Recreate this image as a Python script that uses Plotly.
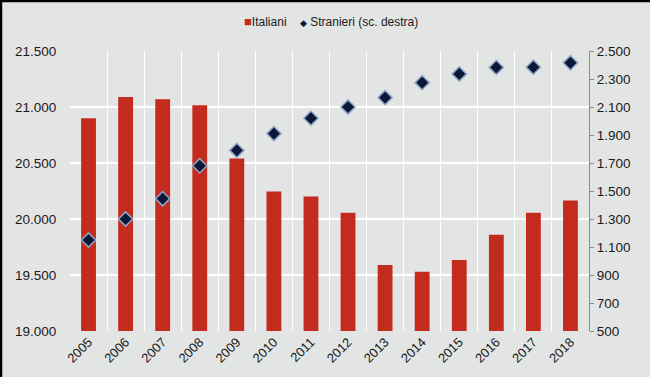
import plotly.graph_objects as go

years = [str(y) for y in range(2005, 2019)]
italiani = [20900, 21090, 21070, 21015, 20540, 20245, 20200, 20055, 19590, 19530, 19635, 19860, 20055, 20165]
stranieri = [1150, 1300, 1445, 1680, 1790, 1910, 2020, 2100, 2167, 2274, 2336, 2383, 2384, 2416]

left_ticks = [19000, 19500, 20000, 20500, 21000, 21500]
left_labels = ["19.000", "19.500", "20.000", "20.500", "21.000", "21.500"]
right_ticks = [500, 700, 900, 1100, 1300, 1500, 1700, 1900, 2100, 2300, 2500]
right_labels = ["500", "700", "900", "1.100", "1.300", "1.500", "1.700", "1.900", "2.100", "2.300", "2.500"]

W, H = 650, 377
ml, mr, mt, mb = 70, 61, 51, 46
pw, ph = W - ml - mr, H - mt - mb

font_fam = "Liberation Sans, Arial, sans-serif"
bg = "#e3e5e5"
red = "#c42b1f"
navy = "#0c1838"

fig = go.Figure()
fig.add_trace(go.Bar(
    x=years, y=italiani, name="Italiani",
    marker=dict(color=red, line=dict(width=0)),
    width=0.4,
))
fig.add_trace(go.Scatter(
    x=years, y=stranieri, name="Stranieri (sc. destra)", yaxis="y2",
    mode="markers",
    marker=dict(symbol="diamond", size=11, color=navy,
                line=dict(color="#8fa8c8", width=1.5)),
))

legend_text = (f"<span style='color:{red};font-size:13px'>■</span>Italiani"
               f"&nbsp;&nbsp;&nbsp;&nbsp;<span style='color:{navy};font-size:9px'>◆</span>"
               f"&nbsp;Stranieri (sc. destra)")

fig.update_layout(
    width=W, height=H,
    margin=dict(l=ml, r=mr, t=mt, b=mb, autoexpand=False),
    paper_bgcolor=bg, plot_bgcolor=bg,
    font=dict(family=font_fam, color="#1a1a1a", size=13),
    showlegend=False,
    xaxis=dict(
        type="category", range=[-0.5, 13.5], tickson="boundaries", showgrid=True,
        gridcolor="white", gridwidth=1,
        ticks="", tickangle=-45, tickfont=dict(size=13, family=font_fam),
        showline=False, zeroline=False,
    ),
    yaxis=dict(
        range=[19000, 21500], tickvals=left_ticks, ticktext=left_labels,
        showgrid=True, gridcolor="white", gridwidth=1.5, zeroline=False, showline=False,
        ticks="outside", ticklen=10, tickcolor="rgba(0,0,0,0)",
        tickfont=dict(size=13.5, family=font_fam),
    ),
    yaxis2=dict(
        overlaying="y", side="right", range=[500, 2500],
        tickvals=right_ticks, ticktext=right_labels,
        showgrid=False, zeroline=False, showline=True, linecolor="#8c8c8c", linewidth=1,
        ticks="outside", ticklen=4, tickcolor="#8c8c8c",
        tickfont=dict(size=13.5, family=font_fam),
    ),
    annotations=[
        dict(text=legend_text, xref="paper", yref="paper",
             x=(331 - ml) / pw, y=1 + (mt - 22) / ph, xanchor="center", yanchor="middle",
             showarrow=False, font=dict(size=12, family=font_fam, color="#1a1a1a")),
    ],
    shapes=[
        dict(type="line", xref="paper", yref="paper", x0=-ml / pw, x1=1 + mr / pw,
             y0=1 + (mt - 1) / ph, y1=1 + (mt - 1) / ph, line=dict(color="black", width=2.5)),
        dict(type="line", xref="paper", yref="paper", x0=-(ml - 1) / pw, x1=-(ml - 1) / pw,
             y0=-mb / ph, y1=1 + mt / ph, line=dict(color="black", width=2.5)),
    ],
)

fig.write_html("out.html", config={"displayModeBar": False},
               post_script="document.body.style.margin='0';document.body.style.overflow='hidden';")
